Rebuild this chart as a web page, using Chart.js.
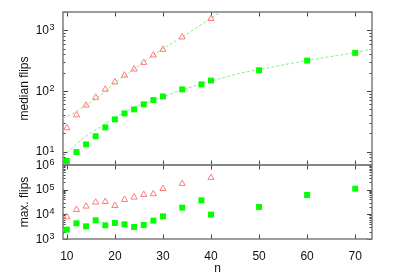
<!DOCTYPE html>
<html>
<head>
<meta charset="utf-8">
<script src="https://cdn.jsdelivr.net/npm/chart.js@4/dist/chart.umd.min.js"></script>
<style>
  body { margin: 0; background: #fff; }
  #wrap { position: relative; width: 393px; height: 275px; }
  #wrap canvas { position: absolute; left: 0; top: 0; }
</style>
</head>
<body>
<div id="wrap">
  <canvas id="medianChart" width="393" height="275"></canvas>
  <canvas id="maxChart" width="393" height="275"></canvas>
</div>
<script>
// ── Data ──────────────────────────────────────────────
const N_TRI = [10, 12, 14, 16, 18, 20, 22, 24, 26, 28, 30, 34, 40];
const N_SQ  = [10, 12, 14, 16, 18, 20, 22, 24, 26, 28, 30, 34, 38, 40, 50, 60, 70];

const MEDIAN_TRI = [24.5, 40, 58, 78, 106, 140, 181, 228, 293, 388, 481, 771, 1549];
const MEDIAN_SQ  = [7.0, 9.8, 13.1, 17.9, 25, 33.9, 42.6, 49.5, 60, 70.6, 81, 106, 128, 148, 219, 316, 424];

const MAX_TRI = [7800, 15500, 21200, 30800, 32700, 22500, 39400, 49100, 63000, 67000, 110000, 176000, 308000];
const MAX_SQ  = [2400, 4340, 3270, 5730, 3600, 4460, 3950, 3070, 3700, 5560, 8320, 18700, 37000, 9750, 19900, 60800, 110000];

// fitted curves in the median panel
const FIT_TRI_N = [9.2, 12, 14, 16, 18, 20, 24, 28, 32, 36, 40, 43];
const FIT_TRI   = [35, 46, 58, 74, 98, 136, 229, 389, 620, 973, 1585, 2240];
const FIT_SQ_N  = [9.2, 11, 14, 17, 20, 23, 26, 30, 34, 40, 46, 50, 60, 70, 73.5];
const FIT_SQ    = [8.3, 11.2, 18, 25.5, 36, 49, 62, 80, 104, 145, 195, 225, 318, 430, 488];

const X_TICKS = [10, 20, 30, 40, 50, 60, 70];
const X_MIN = 9.2, X_MAX = 73.5;

// ── Styles ────────────────────────────────────────────
const COLORS = {
  square:  '#00ff00',
  tri:     '#ff7a7a',
  fit:     '#8fe88f',
  border:  '#7c7c7c',
  tick:    '#444444',
  text:    '#111111',
};
const FONT = '"Liberation Sans", Arial, sans-serif';

const pts = (xs, ys) => xs.map((x, i) => ({ x, y: ys[i] }));

// ── gnuplot-style frame: inward ticks on all four sides ─
const gnuFrame = {
  id: 'gnuFrame',
  beforeDatasetsDraw(chart, args, opts) {
    const { ctx, chartArea: a, scales: { x, y } } = chart;
    ctx.save();

    ctx.strokeStyle = COLORS.tick;
    ctx.lineWidth = 1;
    ctx.beginPath();
    X_TICKS.forEach(v => {
      const px = Math.round(x.getPixelForValue(v)) + 0.5;
      ctx.moveTo(px, a.top);    ctx.lineTo(px, a.top + 4.5);
      ctx.moveTo(px, a.bottom); ctx.lineTo(px, a.bottom - 4.5);
    });
    const e0 = Math.floor(Math.log10(y.min)), e1 = Math.ceil(Math.log10(y.max));
    const decades = [];
    for (let e = e0; e <= e1; e++) {
      for (let m = 1; m < 10; m++) {
        const v = m * Math.pow(10, e);
        if (v < y.min * 0.999 || v > y.max * 1.001) continue;
        if (m === 1) decades.push(e);
        const py = Math.round(y.getPixelForValue(v)) + 0.5;
        const len = m === 1 ? 5 : 2.5;
        ctx.moveTo(a.left, py);  ctx.lineTo(a.left + len, py);
        ctx.moveTo(a.right, py); ctx.lineTo(a.right - len, py);
      }
    }
    ctx.stroke();

    ctx.strokeStyle = COLORS.border;
    ctx.lineWidth = 1.5;
    ctx.strokeRect(a.left, a.top, a.right - a.left, a.bottom - a.top);

    // y tick labels as 10^e
    ctx.fillStyle = COLORS.text;
    decades.forEach(e => {
      const py = y.getPixelForValue(Math.pow(10, e));
      ctx.font = '12px ' + FONT;
      ctx.textAlign = 'right';
      ctx.textBaseline = 'middle';
      ctx.fillText('10', a.left - 14, py + 0.5);
      ctx.font = '9px ' + FONT;
      ctx.textAlign = 'left';
      ctx.textBaseline = 'alphabetic';
      ctx.fillText(String(e), a.left - 13.5, py);
    });

    // y title
    ctx.font = '12px ' + FONT;
    ctx.textAlign = 'center';
    ctx.textBaseline = 'middle';
    ctx.save();
    ctx.translate(25, (a.top + a.bottom) / 2);
    ctx.rotate(-Math.PI / 2);
    ctx.fillText(opts.yTitle, 0, 0);
    ctx.restore();

    if (opts.xLabels) {
      X_TICKS.forEach(v => {
        ctx.fillText(String(v), x.getPixelForValue(v), a.bottom + 18);
      });
      ctx.fillText('n', (a.left + a.right) / 2, a.bottom + 30);
    }
    ctx.restore();
  }
};

function markerSets(tri, sq) {
  return [
    {
      data: pts(N_SQ, sq),
      pointStyle: 'rect', pointRadius: 4.2, borderWidth: 0,
      backgroundColor: COLORS.square, borderColor: COLORS.square,
      showLine: false,
    },
    {
      data: pts(N_TRI, tri),
      pointStyle: 'triangle', pointRadius: 3.6, borderWidth: 1,
      backgroundColor: 'rgba(255,255,255,0)', borderColor: COLORS.tri,
      showLine: false,
    },
  ];
}

function fitSet(xs, ys) {
  return {
    data: pts(xs, ys),
    showLine: true, pointRadius: 0, borderWidth: 1,
    borderColor: COLORS.fit, borderDash: [3, 2],
    cubicInterpolationMode: 'monotone',
  };
}

function panelOptions(pad, yMin, yMax, frameOpts) {
  return {
    responsive: false,
    animation: false,
    layout: { padding: pad },
    plugins: {
      legend: { display: false },
      tooltip: { enabled: false },
      gnuFrame: frameOpts,
    },
    scales: {
      x: { type: 'linear', min: X_MIN, max: X_MAX, display: false },
      y: { type: 'logarithmic', min: yMin, max: yMax, display: false },
    },
  };
}

// ── Median panel ──────────────────────────────────────
new Chart(document.getElementById('medianChart'), {
  type: 'scatter',
  data: {
    datasets: [
      ...markerSets(MEDIAN_TRI, MEDIAN_SQ),
      fitSet(FIT_TRI_N, FIT_TRI),
      fitSet(FIT_SQ_N, FIT_SQ),
    ],
  },
  options: panelOptions({ left: 63, right: 21, top: 12, bottom: 110 }, 6, 2000,
    { yTitle: 'median flips', xLabels: false }),
  plugins: [gnuFrame],
});

// ── Max panel ─────────────────────────────────────────
new Chart(document.getElementById('maxChart'), {
  type: 'scatter',
  data: { datasets: markerSets(MAX_TRI, MAX_SQ) },
  options: panelOptions({ left: 63, right: 21, top: 165, bottom: 36 }, 1e3, 1e6,
    { yTitle: 'max. flips', xLabels: true }),
  plugins: [gnuFrame],
});
</script>
</body>
</html>
